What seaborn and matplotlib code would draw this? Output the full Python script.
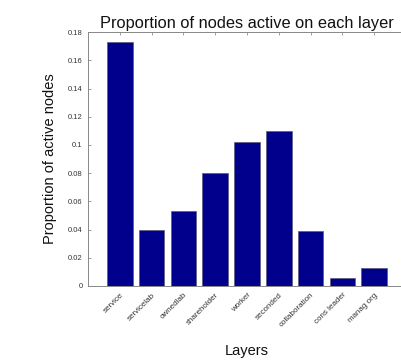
import matplotlib
matplotlib.use("Agg")
import matplotlib.pyplot as plt
import seaborn as sns
import pandas as pd

layers = ["service", "servicelab", "ownedlab", "shareholder", "worker",
          "seconded", "collaboration", "cons leader", "manag org"]
proportion = [0.1727, 0.0395, 0.0534, 0.0799, 0.1018, 0.1098, 0.0392, 0.0057, 0.0128]
yticks = [0, 0.02, 0.04, 0.06, 0.08, 0.1, 0.12, 0.14, 0.16, 0.18]
ytick_labels = ["0", "0.02", "0.04", "0.06", "0.08", "0.1", "0.12", "0.14", "0.16", "0.18"]

df = pd.DataFrame({"layer": layers, "proportion": proportion})

sns.set_style("white")
plt.rcParams["font.family"] = ["Liberation Sans", "DejaVu Sans"]

fig = plt.figure(figsize=(4.01, 3.61), dpi=100)
ax = fig.add_axes([0.2195, 0.2078, 0.7930, 0.7032])

sns.barplot(data=df, x="layer", y="proportion", color="#00008C", saturation=1,
            width=0.8, edgecolor="#5a5a7a", linewidth=0.5, ax=ax)

ax.set_xlim(-1, 9)
ax.set_ylim(0, 0.18)
ax.set_yticks(yticks)
ax.set_yticklabels(ytick_labels, fontsize=5.5, color="#333333")
ax.set_xticks(range(len(layers)))
ax.set_xticklabels(layers, rotation=45, ha="right", rotation_mode="anchor",
                   fontsize=5.8, color="#333333")
ax.tick_params(axis="both", direction="in", length=2.5, width=0.5, color="#777777",
               top=True, bottom=True, left=True, right=False, pad=4)

for side in ["left", "top", "bottom", "right"]:
    ax.spines[side].set_color("#888888")
    ax.spines[side].set_linewidth(0.7)

ax.set_title("Proportion of nodes active on each layer", fontsize=11.8, pad=3, color="#111111")
ax.set_ylabel("Proportion of active nodes", fontsize=10.5, labelpad=8, color="#111111")
ax.set_xlabel("Layers", fontsize=10.5, labelpad=11, color="#111111")

fig.savefig("out.png", dpi=100)
